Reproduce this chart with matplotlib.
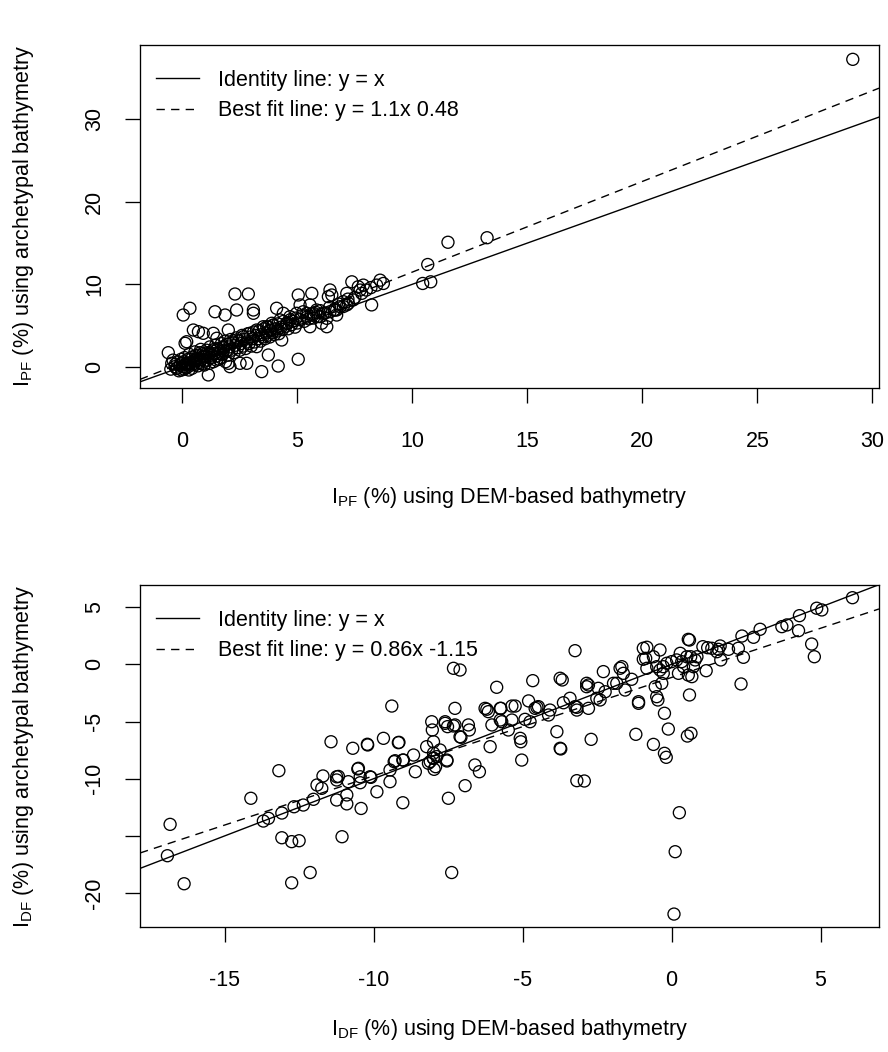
import matplotlib
matplotlib.use("Agg")
import matplotlib.pyplot as plt

plt.rcParams["font.family"] = ["Liberation Sans", "DejaVu Sans"]
plt.rcParams["mathtext.fontset"] = "custom"
plt.rcParams["mathtext.rm"] = "Liberation Sans"
plt.rcParams["mathtext.it"] = "Liberation Sans:italic"
plt.rcParams["axes.unicode_minus"] = False

FS = 15.5

# ---- panel 1: I_PF, DEM-based (x) vs archetypal (y) ----
pf_pts = [
    (29.15, 37.3), (13.25, 15.65), (11.55, 15.1), (10.67, 12.4), (10.45, 10.1), (10.8, 10.3),
    (8.6, 10.5), (8.74, 10.1), (8.23, 7.5), (7.87, 9.9), (7.37, 10.3), (7.73, 9.3), (7.15, 8.9),
    (7.15, 7.5), (7.22, 7.69), (7.43, 8.1), (7.65, 9.7), (6.86, 7.28), (6.64, 6.88), (6.71, 6.27),
    (6.42, 9.31), (6.5, 8.7), (6.35, 8.5), (6.28, 5.87), (6.28, 4.85), (6.06, 5.27), (5.99, 6.07),
    (5.7, 6.48), (5.41, 6.48), (5.55, 4.85), (5.55, 7.49), (5.12, 7.49), (5.04, 8.7), (5.63, 8.9),
    (4.68, 6.07), (4.39, 6.48), (4.32, 3.24), (4.1, 7.09), (3.89, 5.27), (3.67, 4.85), (3.23, 4.45),
    (5.04, 0.9), (4.17, 0.08), (3.45, -0.6), (3.74, 1.42), (3.23, 2.43), (2.8, 0.41), (2.51, 0.41),
    (2.0, 0.41), (2.07, 0.0), (2.0, 4.45), (3.09, 6.48), (3.09, 6.88), (2.36, 6.88), (2.29, 8.82),
    (2.87, 8.82), (1.86, 6.27), (1.42, 6.67), (1.13, -1.0), (1.35, 4.05), (1.5, 3.45), (0.48, 4.45),
    (0.7, 4.25), (0.91, 4.05), (0.04, 6.27), (0.33, 7.09), (0.12, 2.84), (0.19, 3.03), (-0.61, 1.7),
    (-0.46, 0.41), (-0.32, 0.0), (-0.24, -0.2), (-0.1, 0.2), (-0.03, -0.4), (0.12, -0.07), (0.19, 0.41),
    (4.97, 6.48), (5.26, 6.67), (5.84, 6.88), (6.13, 6.48), (6.42, 6.67), (6.71, 6.88), (7.0, 7.89),
    (4.54, 5.27), (4.25, 5.67), (3.96, 5.06), (3.81, 4.45), (3.52, 4.85), (2.94, 4.05), (2.65, 3.64),
    (2.36, 3.24), (2.07, 2.84), (1.78, 2.43), (1.5, 2.03), (1.2, 1.63), (0.91, 1.21), (0.63, 0.81),
    (0.33, 0.41), (0.04, 0.0), (-0.24, -0.2),
    (0.05, 0.6), (0.1, 1.1), (0.15, 0.3), (0.2, -0.1), (0.25, 0.9), (0.3, 1.5), (0.35, 0.5),
    (0.4, 0.2), (0.45, 1.2), (0.5, 0.7), (0.55, 1.8), (0.6, 0.3), (0.65, 1.0), (0.7, 1.4),
    (0.75, 0.5), (0.8, 2.1), (0.85, 0.9), (0.9, 1.6), (0.95, 0.2), (1.0, 1.2), (1.05, 2.0),
    (1.1, 0.8), (1.15, 1.5), (1.2, 2.4), (1.25, 1.1), (1.3, 1.9), (1.35, 0.6), (1.4, 1.6),
    (1.45, 2.6), (1.5, 1.3), (1.55, 2.2), (1.6, 0.9), (1.65, 1.8), (1.7, 2.8), (1.75, 1.5),
    (1.8, 2.3), (1.85, 3.1), (1.9, 1.9), (1.95, 2.7), (2.0, 1.4), (2.05, 2.4), (2.1, 3.3),
    (2.15, 2.0), (2.2, 2.9), (2.25, 1.7), (2.3, 2.6), (2.35, 3.5), (2.4, 2.3), (2.45, 3.1),
    (2.5, 2.0), (2.55, 2.8), (2.6, 3.8), (2.65, 2.5), (2.7, 3.3), (2.75, 2.2), (2.8, 3.0),
    (2.85, 4.0), (2.9, 2.8), (2.95, 3.6), (3.0, 2.5), (3.05, 3.4), (3.1, 4.2), (3.15, 3.0),
    (3.2, 3.8), (3.3, 3.4), (3.35, 4.4), (3.4, 3.1), (3.45, 3.9), (3.5, 3.6), (3.55, 4.6),
    (3.6, 3.4), (3.65, 4.1), (3.7, 3.8), (3.75, 4.8), (3.8, 3.6), (3.85, 4.4), (3.9, 4.1),
    (3.95, 5.0), (4.0, 3.9), (4.05, 4.6), (4.1, 4.3), (4.15, 5.2), (4.2, 4.0), (4.3, 4.8),
    (4.35, 4.5), (4.4, 5.5), (4.5, 4.9), (4.55, 5.3), (4.6, 4.6), (4.7, 5.7), (4.75, 5.1),
    (4.8, 5.5), (4.9, 4.8), (4.95, 5.9), (5.0, 5.3), (5.1, 5.7), (5.2, 6.2), (5.3, 5.5),
    (5.4, 6.0), (5.5, 5.8), (5.6, 6.4), (5.7, 5.9), (5.8, 6.6), (5.9, 6.1), (6.0, 6.8),
    (6.2, 6.5), (6.4, 7.2), (6.6, 6.9), (6.8, 7.6), (7.0, 7.3), (7.2, 8.2), (7.5, 8.4),
    (7.8, 8.9), (8.0, 9.3), (8.2, 9.6), (8.45, 9.9),
    (-0.5, -0.3), (-0.4, 0.8), (-0.3, 0.3), (-0.2, 0.6), (-0.15, -0.5), (-0.05, 0.9), (0.0, 0.4),
    (0.08, -0.3), (0.22, 0.2), (0.28, -0.4), (0.38, 0.9), (0.42, -0.2), (0.52, 0.4), (0.58, 1.3),
    (0.68, 0.1), (0.72, 0.8), (0.78, 1.7), (0.88, 0.4), (0.92, 1.3), (0.98, 0.7), (1.08, 1.7),
    (1.18, 0.4), (1.28, 1.4), (1.38, 2.1), (1.48, 0.8), (1.58, 1.6), (1.68, 1.1), (1.78, 1.9),
    (1.88, 0.6), (1.98, 2.0),
]
dem_pf = [p[0] for p in pf_pts]
arch_pf = [p[1] for p in pf_pts]
pf_fit = (1.1, 0.48)

# ---- panel 2: I_DF ----
df_pts = [
    (-16.92, -16.73), (-16.83, -13.99), (-16.36, -19.18),
    (-14.12, -11.71), (-13.70, -13.70), (-13.53, -13.46), (-13.08, -13.00), (-13.18, -9.30),
    (-13.08, -15.16), (-12.75, -15.50), (-12.50, -15.42), (-12.75, -19.10), (-12.13, -18.20),
    (-12.67, -12.45), (-12.36, -12.30), (-12.02, -11.80), (-11.90, -10.55), (-11.70, -9.76),
    (-11.74, -10.84), (-11.43, -6.77), (-11.24, -10.11), (-11.18, -9.80), (-11.24, -11.86),
    (-10.90, -11.42), (-10.85, -10.26), (-10.90, -12.20), (-11.06, -15.07), (-10.70, -7.34),
    (-10.53, -9.15), (-10.45, -10.35), (-10.42, -12.60), (-10.21, -6.99), (-10.09, -9.88),
    (-9.89, -11.14), (-9.67, -6.47), (-9.45, -10.26), (-9.45, -9.24), (-9.31, -8.51),
    (-9.15, -6.82), (-9.02, -12.10), (-9.02, -8.37), (-8.66, -7.93), (-8.60, -9.39),
    (-9.39, -3.65), (-8.22, -7.20), (-8.16, -8.65), (-8.05, -5.02), (-8.03, -5.74),
    (-7.99, -6.77), (-7.99, -8.22), (-7.97, -9.18), (-7.77, -7.49), (-7.60, -5.16),
    (-7.52, -5.45), (-7.27, -3.85), (-7.32, -5.39), (-7.54, -8.37), (-7.49, -11.71),
    (-7.07, -6.38), (-6.93, -10.61), (-6.82, -5.30), (-6.79, -5.74), (-6.60, -8.80),
    (-6.45, -9.39), (-7.38, -18.20), (-6.20, -3.93), (-6.09, -7.20), (-6.03, -5.30),
    (-5.73, -3.85), (-5.70, -5.02), (-7.32, -0.35), (-7.10, -0.50), (-5.87, -2.01),
    (-4.66, -1.43), (-3.74, -1.22), (-3.67, -1.37), (-3.24, 1.19), (-5.36, -3.65),
    (-5.25, -3.65), (-4.80, -3.20), (-4.52, -3.76), (-4.08, -4.00), (-4.13, -4.43),
    (-3.63, -3.36), (-3.41, -2.97), (-3.18, -3.76), (-2.85, -1.66), (-3.85, -5.89),
    (-3.74, -7.34), (-3.18, -10.17), (-2.93, -10.20), (-5.03, -8.37), (-5.08, -6.47),
    (-5.06, -6.77), (-5.48, -5.74), (-5.36, -4.87), (-4.92, -4.81), (-4.75, -5.02),
    (-5.75, -4.87), (-7.10, -6.33), (-7.60, -5.02), (-7.27, -5.30), (-8.00, -8.20),
    (-7.99, -7.76), (-8.10, -8.50), (-7.92, -8.95), (-7.88, -8.07), (-7.54, -8.45),
    (-9.00, -8.37), (-9.28, -8.43), (-9.17, -6.85), (-10.20, -7.05), (-10.12, -9.83),
    (-10.51, -9.09), (-10.45, -9.83), (-11.24, -9.83), (-2.70, -6.56),
    (6.07, 5.82), (4.87, 4.90), (5.04, 4.75), (4.29, 4.25), (4.26, 2.94), (4.70, 1.77),
    (4.79, 0.66), (3.70, 3.29), (3.87, 3.44), (2.97, 3.06), (2.75, 2.36), (2.36, 2.47),
    (2.24, 1.40), (2.41, 0.61), (2.33, -1.72), (1.91, 1.31), (1.63, 1.60), (1.57, 1.31),
    (1.52, 1.10), (1.35, 1.40), (1.21, 1.45), (1.05, 1.54), (1.65, 0.38), (1.16, -0.56),
    (0.60, 2.12), (0.56, 2.18),
    (-0.83, 1.49), (-0.39, 1.25), (-0.95, 0.44), (-0.83, -0.35), (-0.61, 0.66), (-0.50, -0.21),
    (-0.39, -0.50), (-0.28, -0.21), (-0.16, 0.09), (0.00, 0.23), (0.17, 0.38), (0.29, 0.96),
    (0.34, 0.23), (0.51, 0.66), (0.64, 0.66), (0.79, 0.38), (0.85, 0.66), (0.73, -0.21),
    (0.56, -0.94), (0.68, -1.08), (0.40, -0.21), (0.23, -0.79), (-0.28, -0.79), (-0.33, -1.66),
    (-0.55, -1.96), (-0.50, -2.83), (-1.11, -3.27), (-0.24, -4.28), (0.60, -2.68),
    (-6.26, -3.85), (-6.15, -4.14), (-5.75, -3.85), (-4.58, -3.85), (-4.47, -3.70),
    (-3.24, -3.70), (-3.18, -4.00), (-2.79, -3.85), (-2.85, -1.96), (-2.79, -1.81),
    (-2.46, -2.10), (-2.51, -2.97), (-2.40, -3.12), (-2.29, -0.64), (-2.23, -2.40),
    (-1.95, -1.66), (-1.84, -1.66), (-1.73, -0.35), (-1.67, -0.21), (-1.62, -0.79),
    (-1.34, -1.31), (-1.56, -2.25), (-0.95, 1.40), (-0.87, 0.52),
    (-3.72, -7.40), (-1.20, -6.12), (-1.11, -3.41), (-0.46, -3.12), (-0.11, -5.66),
    (-0.61, -7.00), (-0.24, -7.78), (-0.18, -8.13), (0.53, -6.27), (0.65, -6.03),
    (0.26, -12.97), (0.12, -16.38), (0.08, -21.83),
]
dem_df = [p[0] for p in df_pts]
arch_df = [p[1] for p in df_pts]
df_fit = (0.86, -1.15)

pf_xticks = [0, 5, 10, 15, 20, 25, 30]
pf_yticks = [0, 10, 20, 30]
pf_ytick_labels = ["0", "10", "20", "30"]
df_xticks = [-15, -10, -5, 0, 5]
df_yticks = [-20, -15, -10, -5, 0, 5]
df_ytick_labels = ["-20", "", "-10", "-5", "0", "5"]

W, H = 888, 1052
fig = plt.figure(figsize=(W / 100, H / 100), dpi=100)


def panel(rect, x, y, fit, xlim, ylim, xticks, yticks, ylabels, xlab, ylab, fitlab, xlab_y):
    ax = fig.add_axes(rect)
    ax.scatter(x, y, s=75, facecolors="none", edgecolors="black", linewidths=0.95)
    ax.axline((0, 0), slope=1, color="black", lw=1.0, label="Identity line: y = x")
    ax.axline((0, fit[1]), slope=fit[0], color="black", lw=1.0,
              linestyle=(0, (6, 4.5)), label=fitlab)
    ax.set_xlim(*xlim)
    ax.set_ylim(*ylim)
    ax.set_xticks(xticks)
    ax.set_yticks(yticks)
    ax.set_yticklabels(ylabels, rotation=90, va="center")
    ax.tick_params(direction="out", length=11, width=0.95, labelsize=FS, color="black")
    ax.tick_params(axis="x", pad=20)
    ax.tick_params(axis="y", pad=14)
    for s in ax.spines.values():
        s.set_linewidth(0.95)
    ax.set_xlabel(xlab, fontsize=FS, va="center")
    ax.xaxis.set_label_coords(0.5, xlab_y)
    ax.set_ylabel(ylab, fontsize=FS, va="center")
    ax.yaxis.set_label_coords(-0.158, 0.5)
    ax.legend(loc="upper left", bbox_to_anchor=(0.022, 0.928), frameon=False,
              fontsize=FS, handlelength=2.0, handletextpad=0.85, labelspacing=0.45,
              borderpad=0, borderaxespad=0)
    return ax


panel([140 / W, 1 - 387.7 / H, 739 / W, 342.7 / H], dem_pf, arch_pf, pf_fit,
      (-1.84, 30.29), (-2.55, 39.04), pf_xticks, pf_yticks, pf_ytick_labels,
      r"$\mathrm{I}_{\mathrm{PF}}$ (%) using DEM-based bathymetry",
      r"$\mathrm{I}_{\mathrm{PF}}$ (%) using archetypal bathymetry",
      "Best fit line: y = 1.1x 0.48", -0.32)

panel([140 / W, 1 - 927 / H, 739 / W, 342 / H], dem_df, arch_df, df_fit,
      (-17.84, 6.96), (-22.96, 6.93), df_xticks, df_yticks, df_ytick_labels,
      r"$\mathrm{I}_{\mathrm{DF}}$ (%) using DEM-based bathymetry",
      r"$\mathrm{I}_{\mathrm{DF}}$ (%) using archetypal bathymetry",
      "Best fit line: y = 0.86x -1.15", -0.30)

fig.savefig("out.png", dpi=100)
